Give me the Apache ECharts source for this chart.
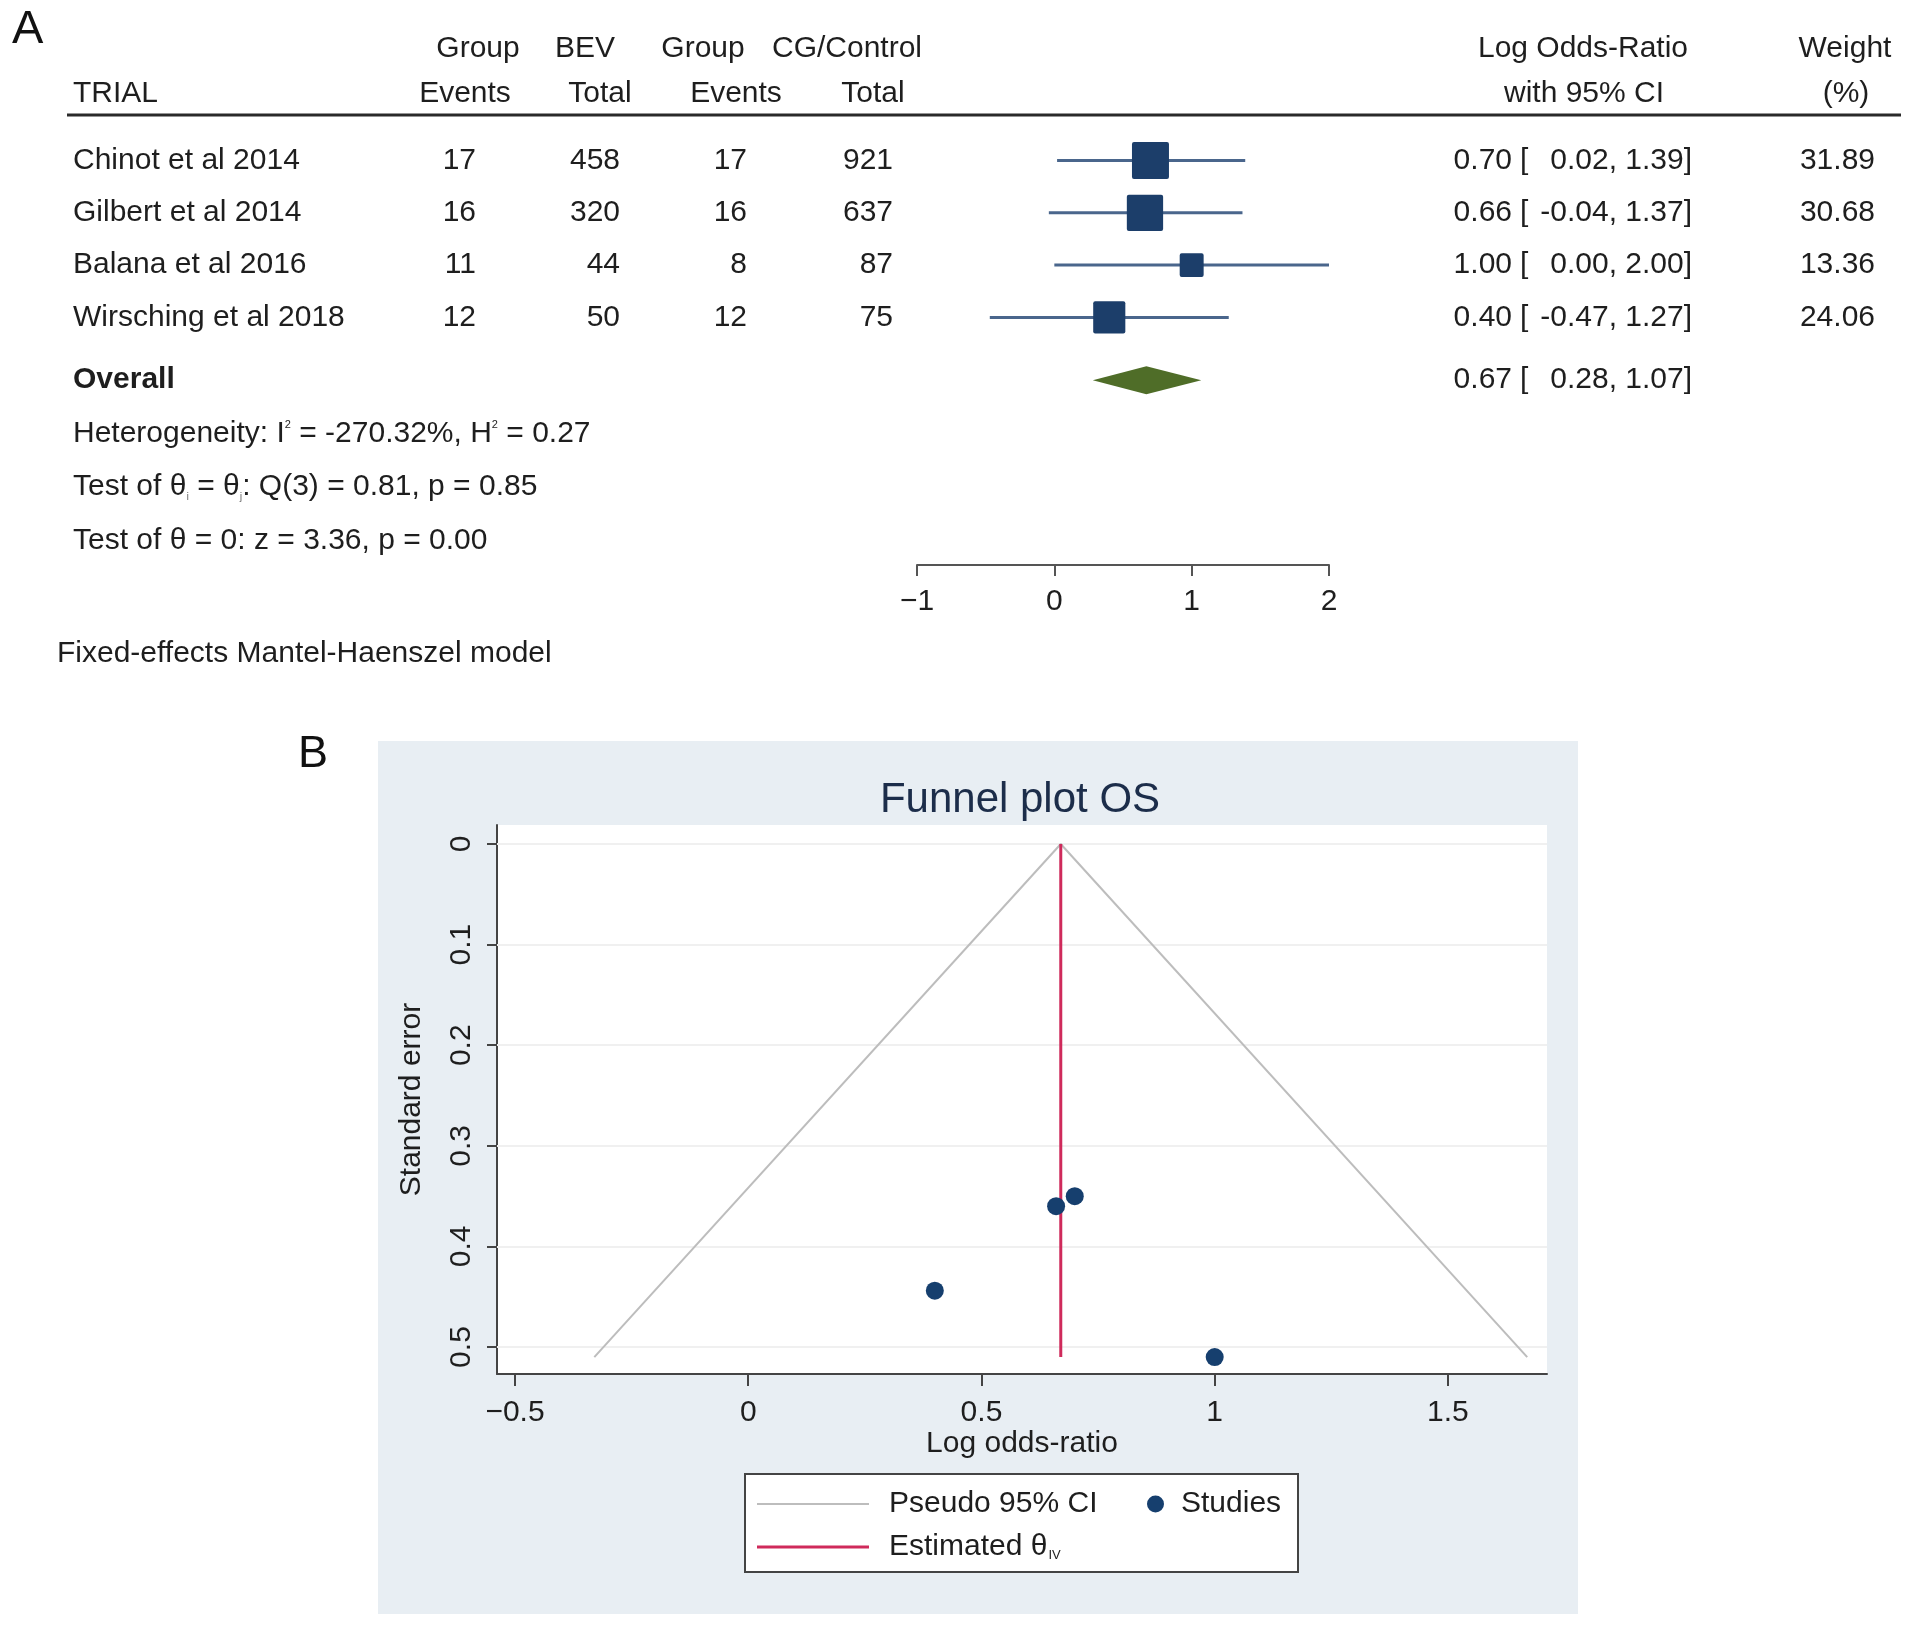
<!DOCTYPE html>
<html>
<head>
<meta charset="utf-8">
<script src="https://cdn.jsdelivr.net/npm/echarts@6/dist/echarts.min.js"></script>
<style>
html,body{margin:0;padding:0;background:#fff;}
#chart{width:1913px;height:1627px;}
</style>
</head>
<body>
<div id="chart"></div>
<script>
// ---------- Data (panel A: forest plot) ----------
const trials = ['Chinot et al 2014', 'Gilbert et al 2014', 'Balana et al 2016', 'Wirsching et al 2018'];
const bevEvents = [17, 16, 11, 12];
const bevTotal = [458, 320, 44, 50];
const cgEvents = [17, 16, 8, 12];
const cgTotal = [921, 637, 87, 75];
const logOR = [0.70, 0.66, 1.00, 0.40];
const ciLow = [0.02, -0.04, 0.00, -0.47];
const ciHigh = [1.39, 1.37, 2.00, 1.27];
const weights = [31.89, 30.68, 13.36, 24.06];
const overallLogOR = [0.67, 0.28, 1.07]; // estimate, low, high
const forestTicks = [-1, 0, 1, 2];
const statsLines = [
  'Heterogeneity: I{sup|2} = -270.32%, H{sup|2} = 0.27',
  'Test of \u03B8{sub|i} = \u03B8{sub|j}: Q(3) = 0.81, p = 0.85',
  'Test of \u03B8 = 0: z = 3.36, p = 0.00'
];
const footnote = 'Fixed-effects Mantel-Haenszel model';

// ---------- Data (panel B: funnel plot) ----------
const studySE = [0.35, 0.36, 0.51, 0.444];
const funnelCI = [[-0.33, 0.51], [0.67, 0], [1.67, 0.51]];
const estimateLine = [[0.67, 0], [0.67, 0.51]];
const funnelXTicks = [-0.5, 0, 0.5, 1, 1.5];
const funnelYTicks = [0, 0.1, 0.2, 0.3, 0.4, 0.5];

// ---------- Layout / style ----------
const FF = '"Liberation Sans", Arial, Helvetica, sans-serif';
const TXT = '#1e1e1e';
const FS = 30;
const DY = 2;
const ROW0 = 108.2, ROWH = 52.3, AXIS_Y = 565;
const OVERALL_ROW = 5.2;
const minus = v => (v < 0 ? '\u2212' + Math.abs(v) : String(v));
const RICH = {
  sup: {fontSize: 11, fontFamily: FF, fill: TXT, color: TXT, verticalAlign: 'top'},
  sub: {fontSize: 11, fontFamily: FF, fill: '#777', color: '#777', verticalAlign: 'bottom'}
};

function txt(x, y, text, align, opts) {
  opts = opts || {};
  return {
    type: 'text', x: x, y: y, silent: true, z: opts.z || 10,
    style: {
      text: text, fill: opts.color || TXT, fontSize: opts.size || FS,
      fontFamily: FF, fontWeight: opts.weight || 'normal',
      textAlign: align || 'left', textVerticalAlign: 'middle',
      align: align || 'left', verticalAlign: 'middle',
      rich: opts.rich
    }
  };
}

const chart = echarts.init(document.getElementById('chart'), null, {renderer: 'canvas'});

// table row text via custom series (y from the row scale)
function rowTexts(params, api) {
  const i = params.dataIndex;
  const y = api.coord([0, api.value(0)])[1];
  const mk = (x, t, a, w) => ({
    type: 'text', x: x, y: y,
    style: {text: t, fill: TXT, fontSize: FS, fontFamily: FF, fontWeight: w || 'normal',
      textAlign: a, textVerticalAlign: 'middle', align: a, verticalAlign: 'middle'}
  });
  const fmt = v => v.toFixed(2);
  if (i < trials.length) {
    return {type: 'group', children: [
      mk(73, trials[i], 'left'),
      mk(476, String(bevEvents[i]), 'right'),
      mk(620, String(bevTotal[i]), 'right'),
      mk(747, String(cgEvents[i]), 'right'),
      mk(893, String(cgTotal[i]), 'right'),
      mk(1512, fmt(logOR[i]), 'right'),
      mk(1520, '[', 'left'),
      mk(1617, fmt(ciLow[i]) + ',', 'right'),
      mk(1692, fmt(ciHigh[i]) + ']', 'right'),
      mk(1875, fmt(weights[i]), 'right')
    ]};
  }
  return {type: 'group', children: [
    mk(73, 'Overall', 'left', 'bold'),
    mk(1512, fmt(overallLogOR[0]), 'right'),
    mk(1520, '[', 'left'),
    mk(1617, fmt(overallLogOR[1]) + ',', 'right'),
    mk(1692, fmt(overallLogOR[2]) + ']', 'right')
  ]};
}

const tableData = trials.map((t, i) => [i + 1]).concat([[OVERALL_ROW]]);
const forestData = trials.map((t, i) => [logOR[i], ciLow[i], ciHigh[i], weights[i], i + 1]);

const option = {
  animation: false,
  backgroundColor: '#ffffff',
  grid: [
    {left: 917, right: 1913 - 1329, top: ROW0, height: AXIS_Y - ROW0, containLabel: false},
    {left: 497, right: 1913 - 1547, top: 825, bottom: 1627 - 1374, show: true,
     backgroundColor: '#ffffff', borderWidth: 0, containLabel: false}
  ],
  xAxis: [
    {
      gridIndex: 0, type: 'value', min: -1, max: 2, interval: 1,
      axisLine: {onZero: false, lineStyle: {color: '#555', width: 2}},
      axisTick: {length: 11, lineStyle: {color: '#555', width: 2}},
      axisLabel: {formatter: minus, fontSize: FS, color: TXT, fontFamily: FF, margin: 22},
      splitLine: {show: false}
    },
    {
      gridIndex: 1, type: 'value', min: -0.5386, max: 1.7124,
      axisLine: {onZero: false, lineStyle: {color: '#444', width: 2}},
      axisTick: {customValues: funnelXTicks, length: 12, lineStyle: {color: '#444', width: 2}},
      axisLabel: {customValues: funnelXTicks, formatter: minus, fontSize: FS, color: TXT, fontFamily: FF, margin: 24},
      splitLine: {show: false},
      name: 'Log odds-ratio', nameLocation: 'middle', nameGap: 52,
      nameTextStyle: {fontSize: FS, color: TXT, fontFamily: FF}
    }
  ],
  yAxis: [
    {
      gridIndex: 0, type: 'value', inverse: true, min: 0, max: (AXIS_Y - ROW0) / ROWH,
      show: false
    },
    {
      gridIndex: 1, type: 'value', inverse: true, min: -0.0189, max: 0.5268,
      axisLine: {show: true, onZero: false, lineStyle: {color: '#444', width: 2}},
      axisTick: {show: true, customValues: funnelYTicks, length: 10, lineStyle: {color: '#444', width: 2}},
      axisLabel: {customValues: funnelYTicks, rotate: 90, fontSize: FS, color: TXT, fontFamily: FF, margin: 20},
      splitLine: {show: false},
      name: 'Standard error', nameLocation: 'middle', nameGap: 70, nameRotate: 90,
      nameTextStyle: {fontSize: FS, color: TXT, fontFamily: FF}
    }
  ],
  legend: [
    {data: ['Pseudo 95% CI'], left: 757, top: 1489, padding: 0, itemWidth: 112, itemHeight: 2, icon: 'rect',
     textStyle: {fontSize: FS, color: TXT, fontFamily: FF, padding: [0, 0, 0, 15]}, selectedMode: false},
    {data: ['Studies'], left: 1147, top: 1489, padding: 0, itemWidth: 17, itemHeight: 17, icon: 'circle',
     textStyle: {fontSize: FS, color: TXT, fontFamily: FF, padding: [0, 0, 0, 12]}, selectedMode: false},
    {data: ['Estimated \u03B8IV'], left: 757, top: 1532, padding: 0, itemWidth: 112, itemHeight: 3, icon: 'rect',
     formatter: () => '{a|Estimated \u03B8}{s|IV}',
     textStyle: {fontSize: FS, color: TXT, fontFamily: FF, padding: [0, 0, 0, 15],
       rich: {a: {fontSize: FS, color: TXT, fontFamily: FF},
              s: {fontSize: 13, color: TXT, fontFamily: FF, verticalAlign: 'bottom', padding: [12, 0, 0, 1]}}},
     selectedMode: false}
  ],
  graphic: [
    {type: 'rect', shape: {x: 378, y: 741, width: 1200, height: 873}, style: {fill: '#e8eef3'}, z: -10, silent: true},
    {type: 'rect', shape: {x: 745, y: 1474, width: 553, height: 98}, style: {fill: '#ffffff', stroke: '#444', lineWidth: 2}, z: 1, silent: true},
    {type: 'line', shape: {x1: 67, y1: 115, x2: 1901, y2: 115}, style: {stroke: '#2a2a2a', lineWidth: 3}, silent: true},
    txt(12, 30, 'A', 'left', {size: 47, color: '#111'}),
    txt(298, 755, 'B', 'left', {size: 45, color: '#111'}),
    txt(1020, 800, 'Funnel plot OS', 'center', {size: 42, color: '#1c2d4a'}),
    txt(478, 47 + DY, 'Group', 'center'),
    txt(585, 47 + DY, 'BEV', 'center'),
    txt(703, 47 + DY, 'Group', 'center'),
    txt(847, 47 + DY, 'CG/Control', 'center'),
    txt(73, 92 + DY, 'TRIAL', 'left'),
    txt(465, 92 + DY, 'Events', 'center'),
    txt(600, 92 + DY, 'Total', 'center'),
    txt(736, 92 + DY, 'Events', 'center'),
    txt(873, 92 + DY, 'Total', 'center'),
    txt(1583, 47 + DY, 'Log Odds-Ratio', 'center'),
    txt(1584, 92 + DY, 'with 95% CI', 'center'),
    txt(1845, 47 + DY, 'Weight', 'center'),
    txt(1846, 92 + DY, '(%)', 'center'),
    txt(73, 432 + DY, statsLines[0], 'left', {rich: RICH}),
    txt(73, 485 + DY, statsLines[1], 'left', {rich: RICH}),
    txt(73, 539 + DY, statsLines[2], 'left', {rich: RICH}),
    txt(57, 652 + DY, footnote, 'left')
  ],
  series: [
    {
      type: 'custom', name: 'table', xAxisIndex: 0, yAxisIndex: 0, clip: false, silent: true,
      encode: {y: 0}, data: tableData, renderItem: rowTexts
    },
    {
      type: 'custom', name: 'forest', xAxisIndex: 0, yAxisIndex: 0, clip: false, silent: true,
      encode: {x: [0, 1, 2], y: 4}, data: forestData,
      renderItem: function (params, api) {
        const est = api.value(0), lo = api.value(1), hi = api.value(2), w = api.value(3), row = api.value(4);
        const p0 = api.coord([lo, row]), p1 = api.coord([hi, row]), c = api.coord([est, row]);
        const s = 6.55 * Math.sqrt(w);
        return {type: 'group', children: [
          {type: 'line', shape: {x1: p0[0], y1: p0[1], x2: p1[0], y2: p1[1]}, style: {stroke: '#4a668c', lineWidth: 3}},
          {type: 'rect', shape: {x: c[0] - s / 2, y: c[1] - s / 2, width: s, height: s, r: 2}, style: {fill: '#1c3e6a'}}
        ]};
      }
    },
    {
      type: 'custom', name: 'overall', xAxisIndex: 0, yAxisIndex: 0, clip: false, silent: true,
      encode: {x: [0, 1, 2], y: 3}, data: [[overallLogOR[0], overallLogOR[1], overallLogOR[2], OVERALL_ROW]],
      renderItem: function (params, api) {
        const est = api.value(0), lo = api.value(1), hi = api.value(2), row = api.value(3);
        const l = api.coord([lo, row]), r = api.coord([hi, row]), c = api.coord([est, row]);
        const h = 14;
        return {type: 'polygon', shape: {points: [[l[0], l[1]], [c[0], c[1] - h], [r[0], r[1]], [c[0], c[1] + h]]},
          style: {fill: '#4f6d28'}};
      }
    },
    {
      type: 'line', name: 'Pseudo 95% CI', xAxisIndex: 1, yAxisIndex: 1, data: funnelCI,
      symbol: 'none', lineStyle: {color: '#bdbdbd', width: 2}, itemStyle: {color: '#bdbdbd'}, silent: true, z: 3
    },
    {
      type: 'line', name: 'Estimated \u03B8IV', xAxisIndex: 1, yAxisIndex: 1, data: estimateLine,
      symbol: 'none', lineStyle: {color: '#cf2a5b', width: 3}, itemStyle: {color: '#cf2a5b'}, silent: true, z: 4
    },
    {
      type: 'scatter', name: 'Studies', xAxisIndex: 1, yAxisIndex: 1,
      data: logOR.map((v, i) => [v, studySE[i]]),
      symbol: 'circle', symbolSize: 18, itemStyle: {color: '#163f6e', opacity: 1}, silent: true, z: 5,
      markLine: {
        silent: true, symbol: ['none', 'none'], label: {show: false}, z: 1,
        lineStyle: {color: '#f0f0f0', width: 2, type: 'solid'},
        data: funnelYTicks.map(v => ({yAxis: v}))
      }
    }
  ]
};
chart.setOption(option);
</script>
</body>
</html>
